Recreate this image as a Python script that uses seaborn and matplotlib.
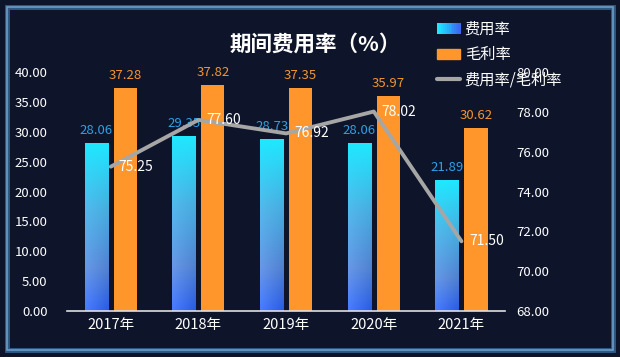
import matplotlib
matplotlib.use("Agg")
import matplotlib.pyplot as plt
import matplotlib.patches as mpatches
from matplotlib.lines import Line2D
from matplotlib.legend_handler import HandlerBase
import numpy as np
import pandas as pd
import seaborn as sns

# 数据
years = ["2017年", "2018年", "2019年", "2020年", "2021年"]
fee_rate = [28.06, 29.35, 28.73, 28.06, 21.89]
gross_rate = [37.28, 37.82, 37.35, 35.97, 30.62]
ratio = [75.25, 77.60, 76.92, 78.02, 71.50]
series_names = ["费用率", "毛利率", "费用率/毛利率"]

bg = "#0e1429"
cyan = np.array([0.12, 0.91, 1.0])
blue = np.array([0.22, 0.42, 0.95])
orange = "#fe962c"

sns.set_theme(style="white")
plt.rcParams["font.family"] = ["Noto Sans CJK SC", "DejaVu Sans"]

df = pd.DataFrame({
    "year": years * 2,
    "value": fee_rate + gross_rate,
    "series": [series_names[0]] * 5 + [series_names[1]] * 5,
})

fig = plt.figure(figsize=(6.2, 3.57), dpi=100, facecolor=bg)
ax = fig.add_axes([0.108, 0.129, 0.707, 0.669])
ax.set_facecolor(bg)

sns.barplot(data=df, x="year", y="value", hue="series", order=years,
            palette=[tuple(cyan), orange], width=0.66, gap=0.2,
            legend=False, saturation=1, linewidth=0, ax=ax)

ax.set_ylim(0, 40)
ax.set_yticks(np.arange(0, 41, 5))
ax.set_yticklabels([f"{v:.2f}" for v in np.arange(0, 41, 5)], color="white", fontsize=9.5)
ax.set_xlabel("")
ax.set_ylabel("")
ax.tick_params(axis="x", colors="white", labelsize=10.5, length=0, pad=5)
ax.tick_params(axis="y", length=0, pad=14)
for s in ["top", "right", "left"]:
    ax.spines[s].set_visible(False)
ax.spines["bottom"].set_color("#e0e0e0")
ax.spines["bottom"].set_linewidth(1.2)

# 渐变: 上青 -> 中灰蓝 -> 下蓝
stops = np.array([0.0, 0.4, 0.75, 1.0])
cols = np.array([cyan, [0.30, 0.70, 0.90], [0.36, 0.55, 0.86], blue])
h, w = 100, 20
tv = np.linspace(0, 1, h)
col_v = np.stack([np.interp(tv, stops, cols[:, c]) for c in range(3)], axis=1)
ss = np.linspace(0, 1, w)[None, :, None]
tt = tv[:, None, None]
grad = col_v[:, None, :] + tt * (0.06 - 0.12 * ss)
grad = np.clip(grad, 0, 1)

patches = ax.patches
blue_bars = patches[:5]
orange_bars = patches[5:10]
for p, v in zip(blue_bars, fee_rate):
    x0, y0 = p.get_x(), p.get_y()
    pw, ph = p.get_width(), p.get_height()
    p.set_facecolor("none")
    p.set_edgecolor("none")
    im = ax.imshow(grad, extent=[x0, x0 + pw, y0, y0 + ph], aspect="auto",
                   origin="upper", zorder=p.get_zorder())
    im.set_clip_path(p)
    ax.text(x0 + pw / 2, v + 1.0, f"{v:.2f}", ha="center", va="bottom",
            color="#2ea0e6", fontsize=9.5)
for p, v in zip(orange_bars, gross_rate):
    p.set_edgecolor("none")
    ax.text(p.get_x() + p.get_width() / 2, v + 1.0, f"{v:.2f}", ha="center",
            va="bottom", color="#f5952f", fontsize=9.5)
ax.set_xlim(-0.5, 4.5)
ax.set_ylim(0, 40)

# 右轴折线
ax2 = ax.twinx()
sns.lineplot(x=np.arange(len(years)), y=ratio, color="#a6a6a6", linewidth=2.8,
             ax=ax2, zorder=5)
ax2.set_ylim(68, 80)
ax2.set_yticks(np.arange(68, 81, 2))
ax2.set_yticklabels([f"{v:.2f}" for v in np.arange(68, 81, 2)], color="white", fontsize=9.5)
ax2.tick_params(axis="y", length=0, pad=8)
for s in ["top", "right", "left", "bottom"]:
    ax2.spines[s].set_visible(False)
for i, v in enumerate(ratio):
    ax2.text(i + 0.09, v, f"{v:.2f}", ha="left", va="center", color="white",
             fontsize=10, zorder=6)

# 标题
fig.text(0.508, 0.877, "期间费用率（%）", ha="center", va="center",
         color="white", fontsize=15.5, fontweight="bold")


class GradHandler(HandlerBase):
    def create_artists(self, legend, orig_handle, xdescent, ydescent, width,
                       height, fontsize, trans):
        arts = []
        n = 12
        for k in range(n):
            f = k / (n - 1)
            c = np.clip(cyan * (1 - f) + blue * f, 0, 1)
            r = mpatches.Rectangle((-xdescent + width * k / n, -ydescent),
                                   width / n + 0.3, height, facecolor=c,
                                   edgecolor="none", transform=trans)
            arts.append(r)
        return arts


h1 = mpatches.Patch(label=series_names[0])
h2 = mpatches.Patch(color=orange, label=series_names[1])
h3 = Line2D([], [], color="#a6a6a6", linewidth=3, label=series_names[2])
leg = fig.legend(handles=[h1, h2, h3], loc="upper left",
                 bbox_to_anchor=(0.683, 0.98), frameon=False, fontsize=11,
                 labelcolor="white", handlelength=1.5, handletextpad=0.3,
                 labelspacing=0.55, handler_map={h1: GradHandler()})

# 边框
fig.add_artist(mpatches.Rectangle((7 / 620, 7 / 357), 606 / 620, 343 / 357,
                                  transform=fig.transFigure, fill=False,
                                  edgecolor="#2f5a86", linewidth=3.5))
fig.add_artist(mpatches.Rectangle((7 / 620, 7 / 357), 606 / 620, 343 / 357,
                                  transform=fig.transFigure, fill=False,
                                  edgecolor="#6a9cc8", linewidth=1.2))

fig.savefig("out.png", dpi=100, facecolor=bg)
